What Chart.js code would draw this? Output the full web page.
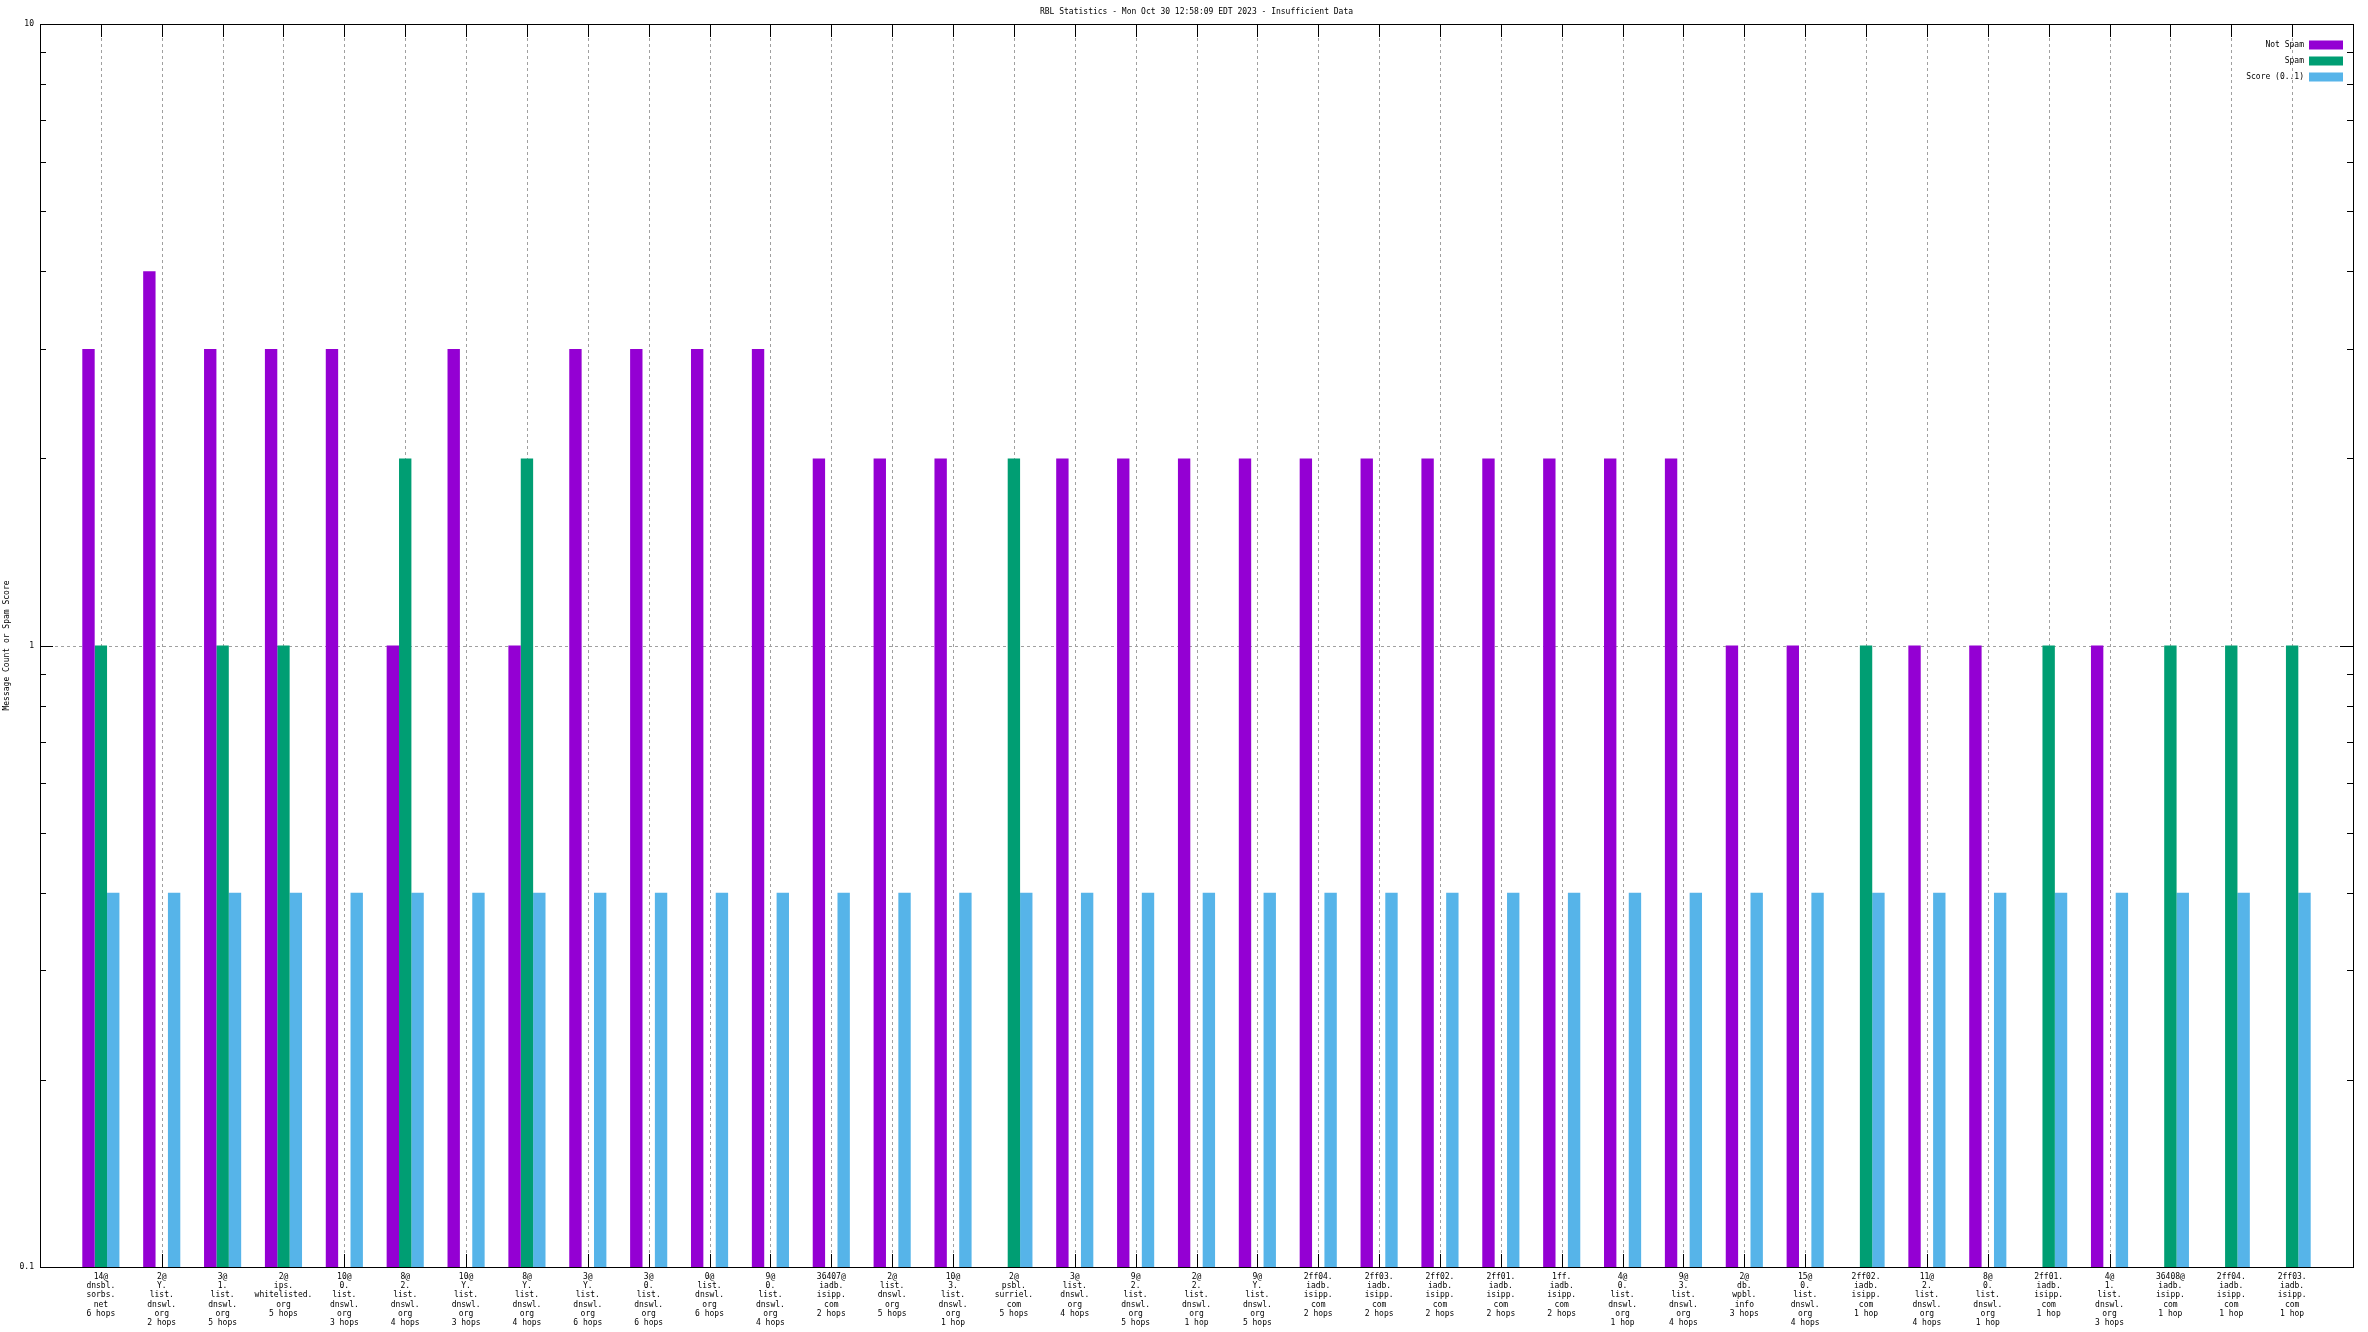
<!DOCTYPE html>
<html>
<head>
<meta charset="utf-8">
<title>RBL Statistics</title>
<script src="https://cdn.jsdelivr.net/npm/chart.js@4.4.0/dist/chart.umd.min.js"></script>
<style>
  html, body { margin: 0; padding: 0; background: #fff; }
  #wrap { width: 2368px; height: 1332px; }
</style>
</head>
<body>
<div id="wrap"><canvas id="rblChart" width="2368" height="1332"></canvas></div>
<script>
// categories: domain/hops, one label line per '\n'
const categories = [
    '14@\ndnsbl.\nsorbs.\nnet\n6 hops',
    '2@\nY.\nlist.\ndnswl.\norg\n2 hops',
    '3@\n1.\nlist.\ndnswl.\norg\n5 hops',
    '2@\nips.\nwhitelisted.\norg\n5 hops',
    '10@\n0.\nlist.\ndnswl.\norg\n3 hops',
    '8@\n2.\nlist.\ndnswl.\norg\n4 hops',
    '10@\nY.\nlist.\ndnswl.\norg\n3 hops',
    '8@\nY.\nlist.\ndnswl.\norg\n4 hops',
    '3@\nY.\nlist.\ndnswl.\norg\n6 hops',
    '3@\n0.\nlist.\ndnswl.\norg\n6 hops',
    '0@\nlist.\ndnswl.\norg\n6 hops',
    '9@\n0.\nlist.\ndnswl.\norg\n4 hops',
    '36407@\niadb.\nisipp.\ncom\n2 hops',
    '2@\nlist.\ndnswl.\norg\n5 hops',
    '10@\n3.\nlist.\ndnswl.\norg\n1 hop',
    '2@\npsbl.\nsurriel.\ncom\n5 hops',
    '3@\nlist.\ndnswl.\norg\n4 hops',
    '9@\n2.\nlist.\ndnswl.\norg\n5 hops',
    '2@\n2.\nlist.\ndnswl.\norg\n1 hop',
    '9@\nY.\nlist.\ndnswl.\norg\n5 hops',
    '2ff04.\niadb.\nisipp.\ncom\n2 hops',
    '2ff03.\niadb.\nisipp.\ncom\n2 hops',
    '2ff02.\niadb.\nisipp.\ncom\n2 hops',
    '2ff01.\niadb.\nisipp.\ncom\n2 hops',
    '1ff.\niadb.\nisipp.\ncom\n2 hops',
    '4@\n0.\nlist.\ndnswl.\norg\n1 hop',
    '9@\n3.\nlist.\ndnswl.\norg\n4 hops',
    '2@\ndb.\nwpbl.\ninfo\n3 hops',
    '15@\n0.\nlist.\ndnswl.\norg\n4 hops',
    '2ff02.\niadb.\nisipp.\ncom\n1 hop',
    '11@\n2.\nlist.\ndnswl.\norg\n4 hops',
    '8@\n0.\nlist.\ndnswl.\norg\n1 hop',
    '2ff01.\niadb.\nisipp.\ncom\n1 hop',
    '4@\n1.\nlist.\ndnswl.\norg\n3 hops',
    '36408@\niadb.\nisipp.\ncom\n1 hop',
    '2ff04.\niadb.\nisipp.\ncom\n1 hop',
    '2ff03.\niadb.\nisipp.\ncom\n1 hop'
];

// null = no bar (zero on the log axis)
const notSpam = [3, 4, 3, 3, 3, 1, 3, 1, 3, 3, 3, 3, 2, 2, 2, null, 2, 2, 2, 2,
                 2, 2, 2, 2, 2, 2, 2, 1, 1, null, 1, 1, null, 1, null, null, null];
const spam = [1, null, 1, 1, null, 2, null, 2, null, null, null, null, null, null, null, 2, null, null, null, null,
              null, null, null, null, null, null, null, null, null, 1, null, null, 1, null, 1, 1, 1];
const score = [0.4, 0.4, 0.4, 0.4, 0.4, 0.4, 0.4, 0.4, 0.4, 0.4, 0.4, 0.4, 0.4, 0.4, 0.4, 0.4, 0.4, 0.4, 0.4, 0.4,
               0.4, 0.4, 0.4, 0.4, 0.4, 0.4, 0.4, 0.4, 0.4, 0.4, 0.4, 0.4, 0.4, 0.4, 0.4, 0.4, 0.4];

const yTicks = [0.1, 1, 10];
const yMinorTicks = [0.2, 0.3, 0.4, 0.5, 0.6, 0.7, 0.8, 0.9, 2, 3, 4, 5, 6, 7, 8, 9];

const chartTitle = 'RBL Statistics - Mon Oct 30 12:58:09 EDT 2023 - Insufficient Data';
const seriesNames = ['Not Spam', 'Spam', 'Score (0..1)'];
const seriesColors = ['#9400d3', '#009e73', '#56b4e9'];

const MONO = '"DejaVu Sans Mono", "Liberation Mono", monospace';
const FONT = '8px ' + MONO;

function toPoints(arr) {
    return arr.map((v, i) => ({ x: i, y: v }));
}

// gnuplot-like frame: dotted grid, inner ticks, border, title, key
const gnuplotFrame = {
    id: 'gnuplotFrame',
    beforeDatasetsDraw(chart) {
        const { ctx, chartArea: a, scales: { x, y } } = chart;
        const line = (x1, y1, x2, y2) => {
            ctx.beginPath(); ctx.moveTo(x1, y1); ctx.lineTo(x2, y2); ctx.stroke();
        };
        ctx.save();
        ctx.lineWidth = 1;

        // dotted grid
        ctx.strokeStyle = '#a0a0a0';
        ctx.setLineDash([3, 3]);
        categories.forEach((c, i) => {
            const px = Math.round(x.getPixelForValue(i)) + 0.5;
            line(px, a.top + 14, px, a.bottom - 14);
        });
        const py1 = Math.round(y.getPixelForValue(1)) + 0.5;
        line(a.left + 15, py1, a.right - 15, py1);

        // tick marks, inside the frame
        ctx.setLineDash([]);
        ctx.strokeStyle = '#000';
        categories.forEach((c, i) => {
            const px = Math.round(x.getPixelForValue(i)) + 0.5;
            line(px, a.top, px, a.top + 13);
            line(px, a.bottom, px, a.bottom - 13);
        });
        yTicks.concat(yMinorTicks).forEach(v => {
            const py = Math.round(y.getPixelForValue(v)) + 0.5;
            const len = yTicks.includes(v) ? 13 : 6;
            line(a.left, py, a.left + len, py);
            line(a.right, py, a.right - len, py);
        });
        ctx.restore();
    },
    afterDatasetsDraw(chart) {
        const { ctx, chartArea: a } = chart;
        ctx.save();
        ctx.strokeStyle = '#000';
        ctx.lineWidth = 1;
        ctx.strokeRect(Math.round(a.left) + 0.5, Math.round(a.top) + 0.5,
                       Math.round(a.right - a.left), Math.round(a.bottom - a.top));

        ctx.font = FONT;
        ctx.fillStyle = '#000';
        ctx.textBaseline = 'middle';
        ctx.textAlign = 'center';
        ctx.fillText(chartTitle, (a.left + a.right) / 2, 12);

        // key, top right
        ctx.textAlign = 'right';
        seriesNames.forEach((name, i) => {
            const ry = a.top + 21 + i * 16;
            ctx.fillStyle = '#000';
            ctx.fillText(name, a.right - 49, ry);
            ctx.fillStyle = seriesColors[i];
            ctx.fillRect(a.right - 44, ry - 4.5, 34, 9);
        });
        ctx.restore();
    }
};

document.addEventListener('DOMContentLoaded', function () {
    const ctx = document.getElementById('rblChart');

    const data = {
        datasets: [notSpam, spam, score].map((arr, i) => ({
            label: seriesNames[i],
            data: toPoints(arr),
            backgroundColor: seriesColors[i],
            borderWidth: 0,
            categoryPercentage: 0.61,
            barPercentage: 1.0
        }))
    };

    const options = {
        responsive: false,
        animation: false,
        layout: { padding: { left: 0, top: 24, right: 15, bottom: 0 } },
        scales: {
            x: {
                type: 'linear',
                min: -1,
                max: 37,
                offset: false,
                grid: { display: false, drawTicks: false, offset: false },
                border: { display: false },
                afterBuildTicks: scale => {
                    scale.ticks = categories.map((c, i) => ({ value: i }));
                },
                afterFit: scale => { scale.height = 65; },
                ticks: {
                    autoSkip: false,
                    maxRotation: 0,
                    minRotation: 0,
                    padding: 5,
                    color: '#000',
                    font: { family: MONO, size: 8, lineHeight: 1.16 },
                    callback: v => categories[v] ? categories[v].split('\n') : ''
                }
            },
            y: {
                type: 'logarithmic',
                min: 0.1,
                max: 10,
                grid: { display: false, drawTicks: false },
                border: { display: false },
                afterBuildTicks: scale => {
                    scale.ticks = yTicks.map(v => ({ value: v }));
                },
                afterFit: scale => { scale.width = 40; },
                ticks: {
                    padding: 6,
                    color: '#000',
                    font: { family: MONO, size: 8 },
                    callback: v => String(v)
                },
                title: {
                    display: true,
                    text: 'Message Count or Spam Score',
                    color: '#000',
                    padding: { top: 2, bottom: 0 },
                    font: { family: MONO, size: 8 }
                }
            }
        },
        plugins: {
            legend: { display: false },
            title: { display: false },
            tooltip: { enabled: false }
        }
    };

    new Chart(ctx, {
        type: 'bar',
        data: data,
        options: options,
        plugins: [gnuplotFrame]
    });
});
</script>
</body>
</html>
